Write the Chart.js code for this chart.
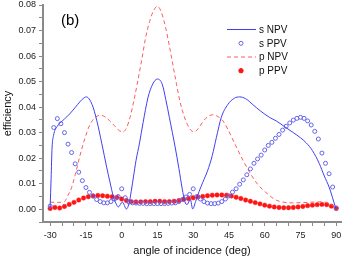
<!DOCTYPE html>
<html>
<head>
<meta charset="utf-8">
<script src="https://cdn.jsdelivr.net/npm/chart.js@4"></script>
<style>
  html, body { margin: 0; padding: 0; background: #fff; overflow: hidden; }
  #wrap { width: 346px; height: 258px; position: relative; }
</style>
</head>
<body>
<div id="wrap"><canvas id="eff-chart"></canvas></div>
<script>
// values (angle in deg, efficiency)
const panelLabel = "(b)";
const seriesNames = ["s NPV", "s PPV", "p NPV", "p PPV"];

const sNpvAngle = [-30, -29.6, -29.2, -28.6, -27, -25, -23, -20.7, -18.5, -16.6,
  -14.8, -12.4, -10.4, -8.3, -6.3, -5, -3.5, -2.5, -1.4, 0.3,
  2, 3, 4, 5, 6, 7.5, 9, 11, 13, 15,
  17, 18.5, 20, 22.5, 24, 25.4, 26.5, 27.4, 28.8, 29.8,
  31, 32.5, 34, 36, 38, 39.7, 41.8, 44.5, 47.3, 49.5,
  52, 55, 58.2, 62, 65, 67.8, 72, 75, 77.4, 80,
  82.9, 85, 87, 89.8];
const sNpvEff = [0.001, 0.012, 0.024, 0.0288, 0.0325, 0.0345, 0.0362, 0.0385, 0.041, 0.043,
  0.044, 0.041, 0.0346, 0.0256, 0.0165, 0.011, 0.005, 0.0025, 0.0009, 0.0028,
  0.0001, 0.002, 0.007, 0.013, 0.019, 0.026, 0.034, 0.0436, 0.049, 0.051,
  0.049, 0.043, 0.036, 0.024, 0.016, 0.008, 0.003, 0.0018, 0.0038, 0.0001,
  0.003, 0.007, 0.0105, 0.015, 0.021, 0.028, 0.036, 0.041, 0.0435, 0.044,
  0.0433, 0.041, 0.0385, 0.036, 0.0345, 0.0327, 0.030, 0.028, 0.026, 0.023,
  0.0179, 0.013, 0.0087, 0.0004];

const sPpvAngle = [-30, -28.5, -27, -25.5, -24, -22.5, -21, -19.5, -18, -16.5,
  -15, -13.5, -12, -10.5, -9, -7.5, -6, -4.5, -3, -1.5,
  0, 1.5, 3, 4.5, 6, 7.5, 9, 10.5, 12, 13.5,
  15, 16.5, 18, 19.5, 21, 22.5, 24, 25.5, 27, 28.5,
  30, 31.5, 33, 34.5, 36, 37.5, 39, 40.5, 42, 43.5,
  45, 46.5, 48, 49.5, 51, 52.5, 54, 55.5, 57, 58.5,
  60, 61.5, 63, 64.5, 66, 67.5, 69, 70.5, 72, 73.5,
  75, 76.5, 78, 79.5, 81, 82.5, 84, 85.5, 87, 88.5,
  90];
const sPpvEff = [0.0012, 0.032, 0.0355, 0.0335, 0.030, 0.0255, 0.0222, 0.0178, 0.0145, 0.0112,
  0.0085, 0.0066, 0.0052, 0.0038, 0.003, 0.0025, 0.0025, 0.003, 0.004, 0.005,
  0.008, 0.0045, 0.0028, 0.0025, 0.0024, 0.0023, 0.0023, 0.0022, 0.0022, 0.0022,
  0.0022, 0.0022, 0.0022, 0.0023, 0.0024, 0.0025, 0.003, 0.0038, 0.0048, 0.0058,
  0.008, 0.005, 0.004, 0.003, 0.0024, 0.0022, 0.0022, 0.0024, 0.003, 0.004,
  0.0052, 0.0067, 0.008, 0.0098, 0.0115, 0.0135, 0.0158, 0.018, 0.0197, 0.0212,
  0.0232, 0.025, 0.0262, 0.0278, 0.0293, 0.031, 0.0325, 0.0338, 0.0349, 0.0356,
  0.036, 0.0356, 0.0346, 0.033, 0.0305, 0.0275, 0.022, 0.018, 0.0139, 0.0087,
  0.0005];

const pNpvAngle = [-30, -28, -26, -24, -22.5, -21, -19.5, -17.5, -15.5, -13.5,
  -11.5, -9, -7, -5, -3, -1, 0.5, 2, 3.5, 5,
  6.5, 8.5, 10, 11.7, 13.5, 15, 16.5, 18.5, 20, 21.5,
  23, 24.5, 26, 27.5, 29, 30.5, 32, 34, 36, 38.4,
  40.5, 42.5, 44.5, 46.5, 48.5, 51, 54, 57, 60, 62.5,
  65, 67.5, 72, 78, 84, 86, 88, 90];
const pNpvEff = [0.0028, 0.0027, 0.0027, 0.003, 0.0055, 0.0085, 0.0135, 0.021, 0.0275, 0.0328,
  0.0356, 0.0368, 0.0362, 0.0346, 0.0327, 0.0308, 0.0303, 0.0318, 0.036, 0.042,
  0.049, 0.059, 0.067, 0.0735, 0.078, 0.0795, 0.0775, 0.0709, 0.064, 0.0565,
  0.049, 0.042, 0.037, 0.0333, 0.031, 0.0303, 0.0315, 0.0342, 0.0362, 0.037,
  0.0362, 0.0346, 0.0314, 0.0275, 0.0236, 0.019, 0.014, 0.0098, 0.007, 0.005,
  0.0035, 0.0028, 0.0025, 0.0027, 0.0029, 0.0026, 0.0018, 0.0003];

const pPpvAngle = [-30, -28, -26, -24, -22, -20, -18, -16, -14, -12,
  -10, -8, -6, -4, -2, 0, 2, 4, 6, 8,
  10, 12, 14, 16, 18, 20, 22, 24, 26, 28,
  30, 32, 34, 36, 38, 40, 42, 44, 46, 48,
  50, 52, 54, 56, 58, 60, 62, 64, 66, 68,
  70, 72, 74, 76, 78, 80, 82, 84, 86, 88,
  90];
const pPpvEff = [0.0003, 0.0007, 0.0005, 0.0011, 0.0019, 0.0027, 0.0036, 0.0044, 0.0049, 0.0052,
  0.0054, 0.0053, 0.0051, 0.0049, 0.0046, 0.004, 0.0034, 0.003, 0.0029, 0.0029,
  0.003, 0.003, 0.0031, 0.0031, 0.003, 0.003, 0.0031, 0.0034, 0.0039, 0.0042,
  0.0045, 0.0048, 0.005, 0.0053, 0.0055, 0.0056, 0.0056, 0.0055, 0.0052, 0.0047,
  0.0042, 0.0036, 0.0031, 0.0026, 0.0021, 0.0016, 0.0012, 0.0009, 0.0007, 0.0006,
  0.0006, 0.0007, 0.0009, 0.0011, 0.0014, 0.0016, 0.0018, 0.0019, 0.0018, 0.0012,
  0.0003];

const xMin = -33, xMax = 92;
const yMin = -0.005, yMax = 0.08;

const AXIS = "#8a8a8a";
const FONT = "Arial, 'Liberation Sans', sans-serif";

function pairs(xs, ys) {
  return xs.map((x, i) => ({ x, y: ys[i] }));
}

// tick marks on the 5 deg / 0.005 grid, labels only on every 3rd / 2nd
function gridTicks(step) {
  return scale => {
    const out = [];
    for (let v = Math.ceil(scale.min / step - 1e-9) * step; v <= scale.max + 1e-9; v += step) {
      out.push({ value: +v.toFixed(6) });
    }
    scale.ticks = out;
  };
}

// panel letter + legend box in the top right corner
const annotPlugin = {
  id: "annot",
  afterDraw(chart) {
    const ctx = chart.ctx;
    ctx.save();
    ctx.fillStyle = "#000";
    ctx.font = "15px " + FONT;
    ctx.textBaseline = "alphabetic";
    ctx.fillText(panelLabel, 61, 25);

    const rowsY = [29.5, 43.3, 57, 70.7];
    chart.data.datasets.forEach((ds, i) => {
      const y = rowsY[i];
      if (ds.showLine === false) {
        ctx.beginPath();
        ctx.arc(241, y, ds.pointRadius, 0, Math.PI * 2);
        ctx.fillStyle = ds.pointBackgroundColor;
        ctx.fill();
        ctx.lineWidth = 1;
        ctx.strokeStyle = ds.pointBorderColor;
        ctx.stroke();
      } else {
        ctx.beginPath();
        ctx.setLineDash(ds.borderDash || []);
        ctx.lineWidth = ds.borderWidth;
        ctx.strokeStyle = ds.borderColor;
        ctx.moveTo(227, y);
        ctx.lineTo(256, y);
        ctx.stroke();
        ctx.setLineDash([]);
      }
      ctx.fillStyle = "#111";
      ctx.font = "10px " + FONT;
      ctx.textBaseline = "middle";
      ctx.fillText(ds.label, 259, y + 0.5);
    });
    ctx.restore();
  }
};

const chart = new Chart(document.getElementById("eff-chart"), {
  type: "line",
  data: {
    datasets: [
      {
        label: seriesNames[0],
        data: pairs(sNpvAngle, sNpvEff),
        borderColor: "#3f3ff2",
        borderWidth: 1,
        pointRadius: 0,
        cubicInterpolationMode: "monotone",
        fill: false
      },
      {
        label: seriesNames[1],
        data: pairs(sPpvAngle, sPpvEff),
        showLine: false,
        pointRadius: 2,
        pointBorderWidth: 1,
        pointBorderColor: "#6464ea",
        pointBackgroundColor: "rgba(255,255,255,0)",
        borderColor: "#6464ea"
      },
      {
        label: seriesNames[2],
        data: pairs(pNpvAngle, pNpvEff),
        borderColor: "#ff5a5a",
        borderWidth: 1,
        borderDash: [4, 3],
        pointRadius: 0,
        cubicInterpolationMode: "monotone",
        fill: false
      },
      {
        label: seriesNames[3],
        data: pairs(pPpvAngle, pPpvEff),
        showLine: false,
        pointRadius: 2.2,
        pointBorderWidth: 0.5,
        pointBorderColor: "#ff1414",
        pointBackgroundColor: "#ff1414",
        borderColor: "#ff1414"
      }
    ]
  },
  options: {
    responsive: true,
    maintainAspectRatio: false,
    animation: false,
    devicePixelRatio: 1,
    layout: { padding: { top: 3, right: 0, left: 0, bottom: 0 } },
    plugins: {
      legend: { display: false },
      tooltip: { enabled: false }
    },
    scales: {
      x: {
        type: "linear",
        min: xMin,
        max: xMax,
        afterBuildTicks: gridTicks(5),
        afterFit: s => { s.height = 36; s.paddingLeft = 0; s.paddingRight = 0; },
        border: { display: true, color: AXIS, width: 2 },
        grid: { drawOnChartArea: false, drawTicks: true, tickLength: 4, color: AXIS, lineWidth: 1 },
        ticks: {
          autoSkip: false,
          maxRotation: 0,
          padding: 4,
          color: "#222",
          font: { family: FONT, size: 9 },
          callback: v => (Math.round(v) % 15 === 0 ? String(Math.round(v)) : "")
        },
        title: {
          display: true,
          text: "angle of incidence (deg)",
          color: "#111",
          font: { family: FONT, size: 11 },
          padding: { top: 0, bottom: 0 }
        }
      },
      y: {
        min: yMin,
        max: yMax,
        afterBuildTicks: gridTicks(0.005),
        afterFit: s => { s.width = 43; s.paddingTop = 0; s.paddingBottom = 0; },
        border: { display: true, color: AXIS, width: 2 },
        grid: { drawOnChartArea: false, drawTicks: true, tickLength: 4, color: AXIS, lineWidth: 1 },
        ticks: {
          autoSkip: false,
          padding: 3,
          color: "#222",
          font: { family: FONT, size: 9 },
          callback: v => {
            const k = Math.round(v * 1000);
            return k % 10 === 0 ? (k / 1000).toFixed(2) : "";
          }
        },
        title: {
          display: true,
          text: "efficiency",
          color: "#111",
          font: { family: FONT, size: 11 },
          padding: { top: 1, bottom: 0 }
        }
      }
    }
  },
  plugins: [annotPlugin]
});
</script>
</body>
</html>
